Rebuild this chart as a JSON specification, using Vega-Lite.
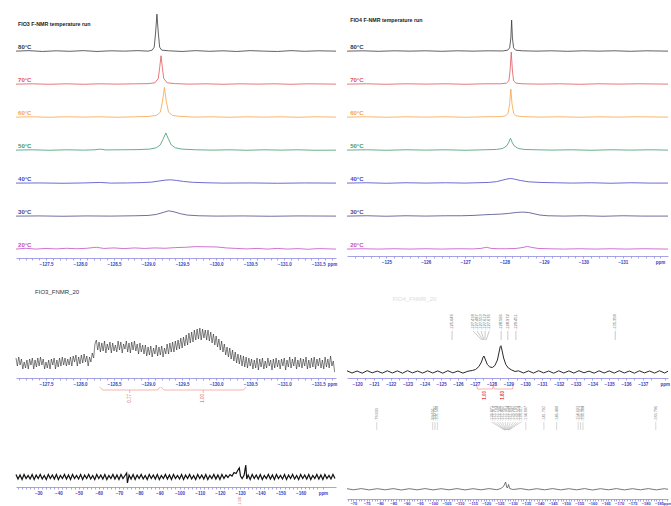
{
"$schema":"https://vega.github.io/schema/vega-lite/v6.json",
"padding":{"left":13,"top":0,"right":0,"bottom":0},
"background":"white",
"config":{"view":{"stroke":null},"font":"Liberation Sans","axis":{"labelFontSize":4.5,"labelFontWeight":"bold","labelColor":"#3c3cc4","domainColor":"#8c8ce0","domainWidth":0.8,"tickColor":"#6a6ad6","tickSize":2,"tickWidth":0.6,"labelPadding":1.5,"grid":false,"labelOverlap":false,"labelFlush":false}},
"datasets":{
"tl":[
{"s":"80°C","x":-127.06,"y":6.0},{"s":"80°C","x":-127.25,"y":6.015},{"s":"80°C","x":-127.45,"y":5.99},{"s":"80°C","x":-127.65,"y":6.01},{"s":"80°C","x":-127.85,"y":5.995},{"s":"80°C","x":-128.05,"y":6.015},{"s":"80°C","x":-128.25,"y":5.99},{"s":"80°C","x":-128.45,"y":6.01},{"s":"80°C","x":-128.65,"y":6.0},{"s":"80°C","x":-128.85,"y":6.015},{"s":"80°C","x":-129.0,"y":6.0},{"s":"80°C","x":-129.06,"y":6.03},{"s":"80°C","x":-129.09,"y":6.12},{"s":"80°C","x":-129.11,"y":6.55},{"s":"80°C","x":-129.13,"y":7.12},{"s":"80°C","x":-129.15,"y":6.55},{"s":"80°C","x":-129.17,"y":6.12},{"s":"80°C","x":-129.2,"y":6.03},{"s":"80°C","x":-129.3,"y":6.01},{"s":"80°C","x":-129.5,"y":5.99},{"s":"80°C","x":-129.7,"y":6.015},{"s":"80°C","x":-129.9,"y":5.995},{"s":"80°C","x":-130.1,"y":6.01},{"s":"80°C","x":-130.3,"y":5.99},{"s":"80°C","x":-130.5,"y":6.015},{"s":"80°C","x":-130.7,"y":6.0},{"s":"80°C","x":-130.9,"y":5.99},{"s":"80°C","x":-131.1,"y":6.015},{"s":"80°C","x":-131.3,"y":5.995},{"s":"80°C","x":-131.5,"y":6.01},{"s":"80°C","x":-131.76,"y":6.0},
{"s":"70°C","x":-127.06,"y":5.0},{"s":"70°C","x":-127.3,"y":5.01},{"s":"70°C","x":-127.55,"y":4.995},{"s":"70°C","x":-127.8,"y":5.01},{"s":"70°C","x":-128.05,"y":4.995},{"s":"70°C","x":-128.3,"y":5.01},{"s":"70°C","x":-128.55,"y":5.0},{"s":"70°C","x":-128.8,"y":5.01},{"s":"70°C","x":-129.0,"y":5.015},{"s":"70°C","x":-129.1,"y":5.04},{"s":"70°C","x":-129.15,"y":5.17},{"s":"70°C","x":-129.17,"y":5.5},{"s":"70°C","x":-129.19,"y":5.86},{"s":"70°C","x":-129.21,"y":5.5},{"s":"70°C","x":-129.23,"y":5.17},{"s":"70°C","x":-129.28,"y":5.04},{"s":"70°C","x":-129.4,"y":5.015},{"s":"70°C","x":-129.6,"y":5.0},{"s":"70°C","x":-129.85,"y":5.01},{"s":"70°C","x":-130.1,"y":4.995},{"s":"70°C","x":-130.35,"y":5.01},{"s":"70°C","x":-130.6,"y":5.0},{"s":"70°C","x":-130.85,"y":5.01},{"s":"70°C","x":-131.1,"y":4.995},{"s":"70°C","x":-131.35,"y":5.01},{"s":"70°C","x":-131.76,"y":5.0},
{"s":"60°C","x":-127.06,"y":4.0},{"s":"60°C","x":-127.3,"y":4.01},{"s":"60°C","x":-127.55,"y":3.995},{"s":"60°C","x":-127.8,"y":4.01},{"s":"60°C","x":-128.05,"y":4.0},{"s":"60°C","x":-128.3,"y":4.01},{"s":"60°C","x":-128.55,"y":3.995},{"s":"60°C","x":-128.8,"y":4.01},{"s":"60°C","x":-129.0,"y":4.02},{"s":"60°C","x":-129.12,"y":4.05},{"s":"60°C","x":-129.18,"y":4.15},{"s":"60°C","x":-129.21,"y":4.45},{"s":"60°C","x":-129.24,"y":4.9},{"s":"60°C","x":-129.27,"y":4.45},{"s":"60°C","x":-129.3,"y":4.15},{"s":"60°C","x":-129.36,"y":4.05},{"s":"60°C","x":-129.48,"y":4.02},{"s":"60°C","x":-129.7,"y":4.0},{"s":"60°C","x":-129.95,"y":4.01},{"s":"60°C","x":-130.2,"y":3.995},{"s":"60°C","x":-130.45,"y":4.01},{"s":"60°C","x":-130.7,"y":4.0},{"s":"60°C","x":-130.95,"y":4.01},{"s":"60°C","x":-131.2,"y":3.995},{"s":"60°C","x":-131.45,"y":4.01},{"s":"60°C","x":-131.76,"y":4.0},
{"s":"50°C","x":-127.06,"y":3.0},{"s":"50°C","x":-127.3,"y":3.01},{"s":"50°C","x":-127.55,"y":2.995},{"s":"50°C","x":-127.8,"y":3.01},{"s":"50°C","x":-128.05,"y":3.0},{"s":"50°C","x":-128.22,"y":3.01},{"s":"50°C","x":-128.3,"y":3.03},{"s":"50°C","x":-128.38,"y":3.005},{"s":"50°C","x":-128.6,"y":3.01},{"s":"50°C","x":-128.85,"y":3.015},{"s":"50°C","x":-129.02,"y":3.03},{"s":"50°C","x":-129.12,"y":3.07},{"s":"50°C","x":-129.18,"y":3.16},{"s":"50°C","x":-129.22,"y":3.33},{"s":"50°C","x":-129.26,"y":3.52},{"s":"50°C","x":-129.3,"y":3.33},{"s":"50°C","x":-129.34,"y":3.16},{"s":"50°C","x":-129.4,"y":3.07},{"s":"50°C","x":-129.5,"y":3.03},{"s":"50°C","x":-129.7,"y":3.01},{"s":"50°C","x":-129.95,"y":3.0},{"s":"50°C","x":-130.2,"y":3.01},{"s":"50°C","x":-130.45,"y":2.995},{"s":"50°C","x":-130.7,"y":3.01},{"s":"50°C","x":-130.95,"y":3.0},{"s":"50°C","x":-131.2,"y":3.01},{"s":"50°C","x":-131.45,"y":2.995},{"s":"50°C","x":-131.76,"y":3.0},
{"s":"40°C","x":-127.06,"y":2.0},{"s":"40°C","x":-127.4,"y":2.005},{"s":"40°C","x":-127.75,"y":1.995},{"s":"40°C","x":-128.05,"y":2.005},{"s":"40°C","x":-128.3,"y":2.02},{"s":"40°C","x":-128.45,"y":2.0},{"s":"40°C","x":-128.7,"y":2.005},{"s":"40°C","x":-128.9,"y":2.015},{"s":"40°C","x":-129.05,"y":2.03},{"s":"40°C","x":-129.15,"y":2.06},{"s":"40°C","x":-129.25,"y":2.09},{"s":"40°C","x":-129.33,"y":2.1},{"s":"40°C","x":-129.42,"y":2.08},{"s":"40°C","x":-129.52,"y":2.05},{"s":"40°C","x":-129.65,"y":2.025},{"s":"40°C","x":-129.85,"y":2.01},{"s":"40°C","x":-130.1,"y":2.0},{"s":"40°C","x":-130.5,"y":2.005},{"s":"40°C","x":-130.9,"y":1.995},{"s":"40°C","x":-131.3,"y":2.005},{"s":"40°C","x":-131.76,"y":2.0},
{"s":"30°C","x":-127.06,"y":1.0},{"s":"30°C","x":-127.4,"y":1.005},{"s":"30°C","x":-127.75,"y":0.995},{"s":"30°C","x":-128.1,"y":1.005},{"s":"30°C","x":-128.45,"y":1.0},{"s":"30°C","x":-128.8,"y":1.01},{"s":"30°C","x":-129.0,"y":1.02},{"s":"30°C","x":-129.12,"y":1.05},{"s":"30°C","x":-129.22,"y":1.11},{"s":"30°C","x":-129.3,"y":1.16},{"s":"30°C","x":-129.38,"y":1.13},{"s":"30°C","x":-129.48,"y":1.07},{"s":"30°C","x":-129.58,"y":1.03},{"s":"30°C","x":-129.75,"y":1.01},{"s":"30°C","x":-130.0,"y":1.0},{"s":"30°C","x":-130.4,"y":1.005},{"s":"30°C","x":-130.8,"y":0.995},{"s":"30°C","x":-131.2,"y":1.005},{"s":"30°C","x":-131.76,"y":1.0},
{"s":"20°C","x":-127.06,"y":0.0},{"s":"20°C","x":-127.2,"y":0.025},{"s":"20°C","x":-127.35,"y":0.0},{"s":"20°C","x":-127.5,"y":0.02},{"s":"20°C","x":-127.65,"y":0.005},{"s":"20°C","x":-127.8,"y":0.025},{"s":"20°C","x":-127.95,"y":0.01},{"s":"20°C","x":-128.1,"y":0.025},{"s":"20°C","x":-128.24,"y":0.055},{"s":"20°C","x":-128.35,"y":0.02},{"s":"20°C","x":-128.5,"y":0.035},{"s":"20°C","x":-128.65,"y":0.015},{"s":"20°C","x":-128.8,"y":0.035},{"s":"20°C","x":-128.95,"y":0.02},{"s":"20°C","x":-129.1,"y":0.035},{"s":"20°C","x":-129.25,"y":0.025},{"s":"20°C","x":-129.4,"y":0.045},{"s":"20°C","x":-129.55,"y":0.055},{"s":"20°C","x":-129.7,"y":0.075},{"s":"20°C","x":-129.85,"y":0.07},{"s":"20°C","x":-130.0,"y":0.065},{"s":"20°C","x":-130.15,"y":0.035},{"s":"20°C","x":-130.3,"y":0.02},{"s":"20°C","x":-130.45,"y":0.005},{"s":"20°C","x":-130.6,"y":0.02},{"s":"20°C","x":-130.75,"y":0.0},{"s":"20°C","x":-130.9,"y":0.02},{"s":"20°C","x":-131.05,"y":0.0},{"s":"20°C","x":-131.2,"y":0.015},{"s":"20°C","x":-131.35,"y":-0.005},{"s":"20°C","x":-131.5,"y":0.015},{"s":"20°C","x":-131.76,"y":0.0}
],
"tll":[{"s":"80°C","x":-127.09,"y":6.04},{"s":"70°C","x":-127.09,"y":5.04},{"s":"60°C","x":-127.09,"y":4.04},{"s":"50°C","x":-127.09,"y":3.04},{"s":"40°C","x":-127.09,"y":2.04},{"s":"30°C","x":-127.09,"y":1.04},{"s":"20°C","x":-127.09,"y":0.04}],
"tr":[
{"s":"80°C","x":-124.0,"y":6.0},{"s":"80°C","x":-124.4,"y":6.01},{"s":"80°C","x":-124.8,"y":5.995},{"s":"80°C","x":-125.2,"y":6.01},{"s":"80°C","x":-125.6,"y":6.0},{"s":"80°C","x":-126.0,"y":6.01},{"s":"80°C","x":-126.4,"y":5.995},{"s":"80°C","x":-126.8,"y":6.01},{"s":"80°C","x":-127.2,"y":6.0},{"s":"80°C","x":-127.6,"y":6.01},{"s":"80°C","x":-127.95,"y":6.005},{"s":"80°C","x":-128.08,"y":6.03},{"s":"80°C","x":-128.13,"y":6.1},{"s":"80°C","x":-128.16,"y":6.4},{"s":"80°C","x":-128.18,"y":6.94},{"s":"80°C","x":-128.2,"y":6.4},{"s":"80°C","x":-128.23,"y":6.1},{"s":"80°C","x":-128.28,"y":6.03},{"s":"80°C","x":-128.45,"y":6.01},{"s":"80°C","x":-128.8,"y":6.0},{"s":"80°C","x":-129.2,"y":6.01},{"s":"80°C","x":-129.6,"y":5.995},{"s":"80°C","x":-130.0,"y":6.01},{"s":"80°C","x":-130.4,"y":6.0},{"s":"80°C","x":-130.8,"y":6.01},{"s":"80°C","x":-131.2,"y":5.995},{"s":"80°C","x":-131.6,"y":6.01},{"s":"80°C","x":-132.15,"y":6.0},
{"s":"70°C","x":-124.0,"y":5.0},{"s":"70°C","x":-124.5,"y":5.01},{"s":"70°C","x":-125.0,"y":4.995},{"s":"70°C","x":-125.5,"y":5.01},{"s":"70°C","x":-126.0,"y":5.0},{"s":"70°C","x":-126.5,"y":5.01},{"s":"70°C","x":-127.0,"y":4.995},{"s":"70°C","x":-127.5,"y":5.01},{"s":"70°C","x":-127.9,"y":5.01},{"s":"70°C","x":-128.05,"y":5.03},{"s":"70°C","x":-128.11,"y":5.1},{"s":"70°C","x":-128.14,"y":5.4},{"s":"70°C","x":-128.17,"y":5.97},{"s":"70°C","x":-128.2,"y":5.4},{"s":"70°C","x":-128.23,"y":5.1},{"s":"70°C","x":-128.29,"y":5.03},{"s":"70°C","x":-128.45,"y":5.01},{"s":"70°C","x":-128.9,"y":5.0},{"s":"70°C","x":-129.4,"y":5.01},{"s":"70°C","x":-129.9,"y":4.995},{"s":"70°C","x":-130.4,"y":5.01},{"s":"70°C","x":-130.9,"y":5.0},{"s":"70°C","x":-131.4,"y":5.01},{"s":"70°C","x":-132.15,"y":5.0},
{"s":"60°C","x":-124.0,"y":4.0},{"s":"60°C","x":-124.5,"y":4.01},{"s":"60°C","x":-125.0,"y":3.995},{"s":"60°C","x":-125.5,"y":4.01},{"s":"60°C","x":-126.0,"y":4.0},{"s":"60°C","x":-126.5,"y":4.01},{"s":"60°C","x":-127.0,"y":3.995},{"s":"60°C","x":-127.5,"y":4.01},{"s":"60°C","x":-127.9,"y":4.015},{"s":"60°C","x":-128.03,"y":4.04},{"s":"60°C","x":-128.09,"y":4.12},{"s":"60°C","x":-128.13,"y":4.4},{"s":"60°C","x":-128.16,"y":4.85},{"s":"60°C","x":-128.19,"y":4.4},{"s":"60°C","x":-128.23,"y":4.12},{"s":"60°C","x":-128.29,"y":4.04},{"s":"60°C","x":-128.45,"y":4.015},{"s":"60°C","x":-128.9,"y":4.0},{"s":"60°C","x":-129.4,"y":4.01},{"s":"60°C","x":-129.9,"y":3.995},{"s":"60°C","x":-130.4,"y":4.01},{"s":"60°C","x":-130.9,"y":4.0},{"s":"60°C","x":-131.4,"y":4.01},{"s":"60°C","x":-132.15,"y":4.0},
{"s":"50°C","x":-124.0,"y":3.0},{"s":"50°C","x":-124.5,"y":3.01},{"s":"50°C","x":-125.0,"y":2.995},{"s":"50°C","x":-125.5,"y":3.01},{"s":"50°C","x":-126.0,"y":3.0},{"s":"50°C","x":-126.5,"y":3.01},{"s":"50°C","x":-127.0,"y":2.995},{"s":"50°C","x":-127.5,"y":3.01},{"s":"50°C","x":-127.8,"y":3.02},{"s":"50°C","x":-127.95,"y":3.05},{"s":"50°C","x":-128.05,"y":3.12},{"s":"50°C","x":-128.1,"y":3.22},{"s":"50°C","x":-128.15,"y":3.36},{"s":"50°C","x":-128.2,"y":3.22},{"s":"50°C","x":-128.25,"y":3.12},{"s":"50°C","x":-128.35,"y":3.05},{"s":"50°C","x":-128.5,"y":3.02},{"s":"50°C","x":-128.8,"y":3.01},{"s":"50°C","x":-129.2,"y":3.0},{"s":"50°C","x":-129.7,"y":3.01},{"s":"50°C","x":-130.2,"y":2.995},{"s":"50°C","x":-130.7,"y":3.01},{"s":"50°C","x":-131.2,"y":3.0},{"s":"50°C","x":-131.7,"y":3.01},{"s":"50°C","x":-132.15,"y":3.0},
{"s":"40°C","x":-124.0,"y":2.0},{"s":"40°C","x":-124.5,"y":2.01},{"s":"40°C","x":-125.0,"y":1.995},{"s":"40°C","x":-125.5,"y":2.01},{"s":"40°C","x":-126.0,"y":2.0},{"s":"40°C","x":-126.5,"y":2.01},{"s":"40°C","x":-127.0,"y":2.0},{"s":"40°C","x":-127.3,"y":2.01},{"s":"40°C","x":-127.6,"y":2.02},{"s":"40°C","x":-127.8,"y":2.045},{"s":"40°C","x":-127.95,"y":2.09},{"s":"40°C","x":-128.05,"y":2.12},{"s":"40°C","x":-128.15,"y":2.14},{"s":"40°C","x":-128.25,"y":2.12},{"s":"40°C","x":-128.4,"y":2.08},{"s":"40°C","x":-128.6,"y":2.04},{"s":"40°C","x":-128.9,"y":2.02},{"s":"40°C","x":-129.3,"y":2.01},{"s":"40°C","x":-129.7,"y":2.0},{"s":"40°C","x":-130.2,"y":2.01},{"s":"40°C","x":-130.7,"y":1.995},{"s":"40°C","x":-131.2,"y":2.01},{"s":"40°C","x":-131.7,"y":2.0},{"s":"40°C","x":-132.15,"y":2.0},
{"s":"30°C","x":-124.0,"y":1.0},{"s":"30°C","x":-124.5,"y":1.01},{"s":"30°C","x":-125.0,"y":0.995},{"s":"30°C","x":-125.5,"y":1.01},{"s":"30°C","x":-126.0,"y":1.0},{"s":"30°C","x":-126.5,"y":1.01},{"s":"30°C","x":-126.9,"y":1.01},{"s":"30°C","x":-127.2,"y":1.02},{"s":"30°C","x":-127.5,"y":1.04},{"s":"30°C","x":-127.7,"y":1.05},{"s":"30°C","x":-127.9,"y":1.06},{"s":"30°C","x":-128.1,"y":1.08},{"s":"30°C","x":-128.3,"y":1.11},{"s":"30°C","x":-128.45,"y":1.12},{"s":"30°C","x":-128.6,"y":1.11},{"s":"30°C","x":-128.75,"y":1.07},{"s":"30°C","x":-128.9,"y":1.03},{"s":"30°C","x":-129.1,"y":1.01},{"s":"30°C","x":-129.5,"y":1.0},{"s":"30°C","x":-130.0,"y":1.01},{"s":"30°C","x":-130.5,"y":0.995},{"s":"30°C","x":-131.0,"y":1.01},{"s":"30°C","x":-131.5,"y":1.0},{"s":"30°C","x":-132.15,"y":1.0},
{"s":"20°C","x":-124.0,"y":0.0},{"s":"20°C","x":-124.4,"y":0.01},{"s":"20°C","x":-124.8,"y":0.0},{"s":"20°C","x":-125.2,"y":0.01},{"s":"20°C","x":-125.6,"y":0.0},{"s":"20°C","x":-126.0,"y":0.01},{"s":"20°C","x":-126.4,"y":0.0},{"s":"20°C","x":-126.8,"y":0.01},{"s":"20°C","x":-127.2,"y":0.005},{"s":"20°C","x":-127.4,"y":0.02},{"s":"20°C","x":-127.54,"y":0.055},{"s":"20°C","x":-127.66,"y":0.02},{"s":"20°C","x":-127.85,"y":0.01},{"s":"20°C","x":-128.05,"y":0.01},{"s":"20°C","x":-128.3,"y":0.02},{"s":"20°C","x":-128.47,"y":0.05},{"s":"20°C","x":-128.58,"y":0.08},{"s":"20°C","x":-128.69,"y":0.05},{"s":"20°C","x":-128.85,"y":0.02},{"s":"20°C","x":-129.1,"y":0.01},{"s":"20°C","x":-129.5,"y":0.0},{"s":"20°C","x":-129.9,"y":0.01},{"s":"20°C","x":-130.3,"y":0.0},{"s":"20°C","x":-130.7,"y":0.01},{"s":"20°C","x":-131.1,"y":0.0},{"s":"20°C","x":-131.5,"y":0.01},{"s":"20°C","x":-132.15,"y":0.0}
],
"trl":[{"s":"80°C","x":-124.08,"y":6.04},{"s":"70°C","x":-124.08,"y":5.04},{"s":"60°C","x":-124.08,"y":4.04},{"s":"50°C","x":-124.08,"y":3.04},{"s":"40°C","x":-124.08,"y":2.04},{"s":"30°C","x":-124.08,"y":1.04},{"s":"20°C","x":-124.08,"y":0.04}],
"ml":[
{"x":-127.06,"y":20},{"x":-127.08,"y":12},{"x":-127.10,"y":21},{"x":-127.12,"y":13},{"x":-127.14,"y":19},{"x":-127.16,"y":9},{"x":-127.18,"y":16},{"x":-127.20,"y":10},{"x":-127.22,"y":18},{"x":-127.24,"y":9},{"x":-127.26,"y":19},{"x":-127.28,"y":13},{"x":-127.30,"y":20},{"x":-127.32,"y":9},{"x":-127.34,"y":18},{"x":-127.36,"y":11},{"x":-127.38,"y":20},{"x":-127.40,"y":12},{"x":-127.42,"y":21},{"x":-127.44,"y":13},{"x":-127.46,"y":19},{"x":-127.48,"y":9},{"x":-127.50,"y":16},{"x":-127.52,"y":10},{"x":-127.54,"y":18},{"x":-127.56,"y":9},{"x":-127.58,"y":19},{"x":-127.60,"y":13},{"x":-127.62,"y":20},{"x":-127.64,"y":9},{"x":-127.66,"y":18},{"x":-127.68,"y":11},{"x":-127.70,"y":20},{"x":-127.72,"y":12},{"x":-127.74,"y":21},{"x":-127.76,"y":13},{"x":-127.78,"y":20},{"x":-127.80,"y":12},{"x":-127.82,"y":19},{"x":-127.84,"y":13},{"x":-127.86,"y":21},{"x":-127.88,"y":12},{"x":-127.90,"y":22},{"x":-127.92,"y":16},{"x":-127.94,"y":23},{"x":-127.96,"y":12},{"x":-127.98,"y":21},{"x":-128.00,"y":14},{"x":-128.02,"y":23},{"x":-128.04,"y":15},{"x":-128.06,"y":24},{"x":-128.08,"y":16},{"x":-128.10,"y":22},{"x":-128.12,"y":12},{"x":-128.14,"y":21},{"x":-128.16,"y":16},{"x":-128.18,"y":25},{"x":-128.20,"y":20},{"x":-128.22,"y":34},{"x":-128.24,"y":38},{"x":-128.26,"y":28},{"x":-128.28,"y":36},{"x":-128.30,"y":26},{"x":-128.32,"y":35},{"x":-128.34,"y":27},{"x":-128.36,"y":37},{"x":-128.38,"y":25},{"x":-128.40,"y":34},{"x":-128.42,"y":28},{"x":-128.44,"y":36},{"x":-128.46,"y":25},{"x":-128.48,"y":35},{"x":-128.50,"y":27},{"x":-128.52,"y":33},{"x":-128.54,"y":26},{"x":-128.56,"y":37},{"x":-128.58,"y":28},{"x":-128.60,"y":36},{"x":-128.62,"y":25},{"x":-128.64,"y":34},{"x":-128.66,"y":29},{"x":-128.68,"y":37},{"x":-128.70,"y":26},{"x":-128.72,"y":35},{"x":-128.74,"y":25},{"x":-128.76,"y":36},{"x":-128.78,"y":28},{"x":-128.80,"y":37},{"x":-128.82,"y":27},{"x":-128.84,"y":34},{"x":-128.86,"y":24},{"x":-128.88,"y":35},{"x":-128.90,"y":26},{"x":-128.92,"y":33},{"x":-128.94,"y":24},{"x":-128.96,"y":33},{"x":-128.98,"y":22},{"x":-129.00,"y":31},{"x":-129.02,"y":23},{"x":-129.04,"y":32},{"x":-129.06,"y":21},{"x":-129.08,"y":30},{"x":-129.10,"y":24},{"x":-129.12,"y":33},{"x":-129.14,"y":22},{"x":-129.16,"y":31},{"x":-129.18,"y":23},{"x":-129.20,"y":32},{"x":-129.22,"y":21},{"x":-129.24,"y":30},{"x":-129.26,"y":24},{"x":-129.28,"y":34},{"x":-129.30,"y":24},{"x":-129.32,"y":35},{"x":-129.34,"y":26},{"x":-129.36,"y":36},{"x":-129.38,"y":26},{"x":-129.40,"y":37},{"x":-129.42,"y":28},{"x":-129.44,"y":38},{"x":-129.46,"y":29},{"x":-129.48,"y":40},{"x":-129.50,"y":30},{"x":-129.52,"y":41},{"x":-129.54,"y":32},{"x":-129.56,"y":43},{"x":-129.58,"y":33},{"x":-129.60,"y":45},{"x":-129.62,"y":35},{"x":-129.64,"y":46},{"x":-129.66,"y":36},{"x":-129.68,"y":48},{"x":-129.70,"y":38},{"x":-129.72,"y":49},{"x":-129.74,"y":39},{"x":-129.76,"y":50},{"x":-129.78,"y":38},{"x":-129.80,"y":49},{"x":-129.82,"y":40},{"x":-129.84,"y":48},{"x":-129.86,"y":38},{"x":-129.88,"y":48},{"x":-129.90,"y":37},{"x":-129.92,"y":46},{"x":-129.94,"y":35},{"x":-129.96,"y":44},{"x":-129.98,"y":33},{"x":-130.00,"y":42},{"x":-130.02,"y":31},{"x":-130.04,"y":39},{"x":-130.06,"y":28},{"x":-130.08,"y":37},{"x":-130.10,"y":26},{"x":-130.12,"y":34},{"x":-130.14,"y":23},{"x":-130.16,"y":31},{"x":-130.18,"y":21},{"x":-130.20,"y":30},{"x":-130.22,"y":19},{"x":-130.24,"y":28},{"x":-130.26,"y":17},{"x":-130.28,"y":26},{"x":-130.30,"y":15},{"x":-130.32,"y":24},{"x":-130.34,"y":14},{"x":-130.36,"y":23},{"x":-130.38,"y":12},{"x":-130.40,"y":22},{"x":-130.42,"y":11},{"x":-130.44,"y":21},{"x":-130.46,"y":10},{"x":-130.48,"y":20},{"x":-130.50,"y":12},{"x":-130.52,"y":19},{"x":-130.54,"y":9},{"x":-130.56,"y":18},{"x":-130.58,"y":10},{"x":-130.60,"y":20},{"x":-130.62,"y":8},{"x":-130.64,"y":19},{"x":-130.66,"y":11},{"x":-130.68,"y":20},{"x":-130.70,"y":9},{"x":-130.72,"y":17},{"x":-130.74,"y":10},{"x":-130.76,"y":20},{"x":-130.78,"y":12},{"x":-130.80,"y":18},{"x":-130.82,"y":8},{"x":-130.84,"y":19},{"x":-130.86,"y":10},{"x":-130.88,"y":20},{"x":-130.90,"y":11},{"x":-130.92,"y":18},{"x":-130.94,"y":9},{"x":-130.96,"y":19},{"x":-130.98,"y":12},{"x":-131.00,"y":20},{"x":-131.02,"y":8},{"x":-131.04,"y":18},{"x":-131.06,"y":11},{"x":-131.08,"y":21},{"x":-131.10,"y":10},{"x":-131.12,"y":19},{"x":-131.14,"y":12},{"x":-131.16,"y":21},{"x":-131.18,"y":9},{"x":-131.20,"y":18},{"x":-131.22,"y":11},{"x":-131.24,"y":20},{"x":-131.26,"y":10},{"x":-131.28,"y":19},{"x":-131.30,"y":12},{"x":-131.32,"y":21},{"x":-131.34,"y":9},{"x":-131.36,"y":18},{"x":-131.38,"y":10},{"x":-131.40,"y":20},{"x":-131.42,"y":11},{"x":-131.44,"y":21},{"x":-131.46,"y":9},{"x":-131.48,"y":19},{"x":-131.50,"y":12},{"x":-131.52,"y":20},{"x":-131.54,"y":10},{"x":-131.56,"y":18},{"x":-131.58,"y":9},{"x":-131.60,"y":21},{"x":-131.62,"y":11},{"x":-131.64,"y":19},{"x":-131.66,"y":10},{"x":-131.68,"y":22},{"x":-131.70,"y":12},{"x":-131.72,"y":17},{"x":-131.74,"y":6}
],
"mlb":[
{"b":"a","x":-128.29,"y":-9},{"b":"a","x":-128.33,"y":-12},{"b":"a","x":-129.14,"y":-12},{"b":"a","x":-129.18,"y":-9},
{"b":"b","x":-129.19,"y":-9},{"b":"b","x":-129.23,"y":-12},{"b":"b","x":-130.4,"y":-12},{"b":"b","x":-130.44,"y":-9}
],
"mli":[{"x":-128.73,"t":"0.77"},{"x":-129.81,"t":"1.00"}],
"bl":[
{"x":-19,"y":12.5},{"x":-20,"y":8},{"x":-21,"y":12},{"x":-22,"y":7.5},{"x":-23,"y":12.5},{"x":-24,"y":8.5},{"x":-25,"y":11.5},{"x":-26,"y":8},{"x":-27,"y":12.5},{"x":-28,"y":7.5},{"x":-29,"y":12},{"x":-30,"y":8.5},{"x":-31,"y":12.5},{"x":-32,"y":8},{"x":-33,"y":11.5},{"x":-34,"y":7.5},{"x":-35,"y":12.5},{"x":-36,"y":8.5},{"x":-37,"y":12},{"x":-38,"y":8},{"x":-39,"y":12.5},{"x":-40,"y":7.5},{"x":-41,"y":11.5},{"x":-42,"y":8.5},{"x":-43,"y":12.5},{"x":-44,"y":8},{"x":-45,"y":12},{"x":-46,"y":7.5},{"x":-47,"y":12.5},{"x":-48,"y":8.5},{"x":-49,"y":11.5},{"x":-50,"y":8},{"x":-51,"y":12.5},{"x":-52,"y":7.5},{"x":-53,"y":12},{"x":-54,"y":8.5},{"x":-55,"y":12.5},{"x":-56,"y":8},{"x":-57,"y":11.5},{"x":-58,"y":7.5},{"x":-59,"y":12.5},{"x":-60,"y":8.5},{"x":-61,"y":12},{"x":-62,"y":8},{"x":-63,"y":12.5},{"x":-64,"y":7.5},{"x":-65,"y":11.5},{"x":-66,"y":8.5},{"x":-67,"y":12.5},{"x":-68,"y":8},{"x":-69,"y":12},{"x":-70,"y":7.5},{"x":-71,"y":12.5},{"x":-72,"y":8.5},{"x":-73,"y":11.5},{"x":-73.8,"y":14},{"x":-74.2,"y":4},{"x":-75,"y":12},{"x":-76,"y":8},{"x":-77,"y":12.5},{"x":-78,"y":7.5},{"x":-79,"y":12},{"x":-80,"y":8.5},{"x":-81,"y":12.5},{"x":-82,"y":8},{"x":-83,"y":11.5},{"x":-84,"y":7.5},{"x":-85,"y":12.5},{"x":-86,"y":8.5},{"x":-87,"y":12},{"x":-88,"y":8},{"x":-89,"y":12.5},{"x":-90,"y":7.5},{"x":-91,"y":11.5},{"x":-92,"y":8.5},{"x":-93,"y":12.5},{"x":-94,"y":8},{"x":-95,"y":12},{"x":-96,"y":7.5},{"x":-97,"y":12.5},{"x":-98,"y":8.5},{"x":-99,"y":11.5},{"x":-100,"y":8},{"x":-101,"y":12.5},{"x":-102,"y":7.5},{"x":-103,"y":12},{"x":-104,"y":8.5},{"x":-105,"y":12.5},{"x":-106,"y":8},{"x":-107,"y":11.5},{"x":-108,"y":7.5},{"x":-109,"y":12.5},{"x":-110,"y":8.5},{"x":-111,"y":12},{"x":-112,"y":8},{"x":-113,"y":12.5},{"x":-114,"y":7.5},{"x":-115,"y":11.5},{"x":-116,"y":8.5},{"x":-117,"y":12.5},{"x":-118,"y":8},{"x":-119,"y":12},{"x":-120,"y":7.5},{"x":-121,"y":12.5},{"x":-122,"y":8.5},{"x":-123,"y":12},{"x":-124,"y":9.5},{"x":-125,"y":12.5},{"x":-126,"y":11},{"x":-127,"y":14.5},{"x":-128,"y":13.5},{"x":-128.8,"y":16.5},{"x":-129.6,"y":19},{"x":-130.2,"y":11},{"x":-131,"y":8.5},{"x":-132,"y":12},{"x":-132.8,"y":22},{"x":-133.3,"y":8},{"x":-134,"y":12},{"x":-135,"y":7.5},{"x":-136,"y":12.5},{"x":-137,"y":8.5},{"x":-138,"y":12},{"x":-139,"y":8},{"x":-140,"y":12.5},{"x":-141,"y":7.5},{"x":-142,"y":11.5},{"x":-143,"y":8.5},{"x":-144,"y":12.5},{"x":-145,"y":8},{"x":-146,"y":12},{"x":-147,"y":7.5},{"x":-148,"y":12.5},{"x":-149,"y":8.5},{"x":-150,"y":11.5},{"x":-151,"y":8},{"x":-152,"y":12.5},{"x":-153,"y":7.5},{"x":-154,"y":12},{"x":-155,"y":8.5},{"x":-156,"y":12.5},{"x":-157,"y":8},{"x":-158,"y":11.5},{"x":-159,"y":7.5},{"x":-160,"y":12.5},{"x":-161,"y":8.5},{"x":-162,"y":12},{"x":-163,"y":8},{"x":-164,"y":12.5},{"x":-165,"y":7.5},{"x":-166,"y":11.5},{"x":-167,"y":8.5},{"x":-168,"y":12.5},{"x":-169,"y":8},{"x":-170,"y":12},{"x":-171,"y":7.5},{"x":-172,"y":12.5},{"x":-173,"y":8.5},{"x":-174,"y":11.5},{"x":-175,"y":8},{"x":-176,"y":12.5},{"x":-177,"y":8.5}
],
"mr":[
{"x":-119.4,"y":7.2},{"x":-119.7,"y":5.0},{"x":-120.0,"y":7.0},{"x":-120.3,"y":4.8},{"x":-120.6,"y":7.3},{"x":-120.9,"y":5.2},{"x":-121.2,"y":6.9},{"x":-121.5,"y":4.9},{"x":-121.8,"y":7.2},{"x":-122.1,"y":5.0},{"x":-122.4,"y":7.1},{"x":-122.7,"y":4.8},{"x":-123.0,"y":7.3},{"x":-123.3,"y":5.1},{"x":-123.6,"y":7.0},{"x":-123.9,"y":4.9},{"x":-124.2,"y":7.2},{"x":-124.5,"y":5.0},{"x":-124.8,"y":7.1},{"x":-125.1,"y":4.8},{"x":-125.4,"y":7.3},{"x":-125.7,"y":5.1},{"x":-126.0,"y":7.0},{"x":-126.3,"y":4.9},{"x":-126.6,"y":6.8},{"x":-126.85,"y":7.5},{"x":-127.05,"y":8.5},{"x":-127.25,"y":11.5},{"x":-127.4,"y":16},{"x":-127.5,"y":21},{"x":-127.55,"y":22},{"x":-127.62,"y":19},{"x":-127.75,"y":13.5},{"x":-127.9,"y":11},{"x":-128.05,"y":10.5},{"x":-128.2,"y":12.5},{"x":-128.35,"y":18},{"x":-128.45,"y":26},{"x":-128.52,"y":31.5},{"x":-128.56,"y":32.3},{"x":-128.62,"y":28},{"x":-128.72,"y":20},{"x":-128.85,"y":13.5},{"x":-129.0,"y":10},{"x":-129.2,"y":8},{"x":-129.4,"y":6.5},{"x":-129.6,"y":7.2},{"x":-129.9,"y":5.0},{"x":-130.2,"y":7.1},{"x":-130.5,"y":4.9},{"x":-130.8,"y":7.3},{"x":-131.1,"y":5.1},{"x":-131.4,"y":7.0},{"x":-131.7,"y":4.8},{"x":-132.0,"y":7.2},{"x":-132.3,"y":5.0},{"x":-132.6,"y":7.1},{"x":-132.9,"y":4.9},{"x":-133.2,"y":7.3},{"x":-133.5,"y":5.2},{"x":-133.8,"y":6.9},{"x":-134.1,"y":4.8},{"x":-134.4,"y":7.2},{"x":-134.7,"y":5.0},{"x":-135.0,"y":7.1},{"x":-135.3,"y":4.9},{"x":-135.6,"y":7.3},{"x":-135.9,"y":5.0},{"x":-136.2,"y":7.0},{"x":-136.5,"y":4.8},{"x":-136.8,"y":7.2},{"x":-137.1,"y":5.1},{"x":-137.4,"y":7.0},{"x":-137.7,"y":4.9},{"x":-138.0,"y":7.2},{"x":-138.3,"y":5.0},{"x":-138.5,"y":6.8}
],
"mrl":[{"x":-125.65,"px":-125.65,"t":"-125.649"},{"x":-126.9,"px":-127.42,"t":"-127.418"},{"x":-127.14,"px":-127.49,"t":"-127.487"},{"x":-127.38,"px":-127.55,"t":"-127.553"},{"x":-127.62,"px":-127.61,"t":"-127.612"},{"x":-127.86,"px":-127.68,"t":"-127.676"},{"x":-128.57,"px":-128.57,"t":"-128.566"},{"x":-128.97,"px":-128.97,"t":"-128.972"},{"x":-129.45,"px":-129.45,"t":"-129.451"},{"x":-135.36,"px":-135.36,"t":"-135.358"}],
"mrb":[
{"b":"a","x":-127.12,"y":-8},{"b":"a","x":-127.17,"y":-11},{"b":"a","x":-128.05,"y":-11},{"b":"a","x":-128.1,"y":-8},
{"b":"b","x":-128.11,"y":-8},{"b":"b","x":-128.16,"y":-11},{"b":"b","x":-129.24,"y":-11},{"b":"b","x":-129.29,"y":-8}
],
"mri":[{"x":-127.61,"t":"1.00"},{"x":-128.7,"t":"1.83"}],
"br":[
{"x":-67.6,"y":10.3},{"x":-70,"y":9.2},{"x":-73,"y":10.4},{"x":-76,"y":9.1},{"x":-79,"y":10.3},{"x":-82,"y":9.2},{"x":-85,"y":10.4},{"x":-88,"y":9.0},{"x":-91,"y":10.3},{"x":-94,"y":9.2},{"x":-97,"y":10.4},{"x":-100,"y":9.1},{"x":-103,"y":10.3},{"x":-106,"y":9.2},{"x":-109,"y":10.4},{"x":-112,"y":9.1},{"x":-115,"y":10.3},{"x":-118,"y":9.2},{"x":-121,"y":10.4},{"x":-124,"y":9.3},{"x":-125.5,"y":10.5},{"x":-126.5,"y":12.5},{"x":-127.3,"y":17},{"x":-127.7,"y":12},{"x":-127.9,"y":11},{"x":-128.1,"y":12},{"x":-128.4,"y":14.5},{"x":-128.8,"y":10.5},{"x":-130,"y":9.5},{"x":-133,"y":10.4},{"x":-136,"y":9.1},{"x":-139,"y":10.3},{"x":-142,"y":9.2},{"x":-145,"y":10.4},{"x":-148,"y":9.1},{"x":-151,"y":10.3},{"x":-154,"y":9.2},{"x":-157,"y":10.4},{"x":-160,"y":9.0},{"x":-163,"y":10.3},{"x":-166,"y":9.2},{"x":-169,"y":10.4},{"x":-172,"y":9.1},{"x":-175,"y":10.3},{"x":-178,"y":9.2},{"x":-181,"y":10.4},{"x":-184,"y":9.1},{"x":-187,"y":10.3},{"x":-188.4,"y":9.7}
],
"brl":[{"x":-78.8,"px":-78.8,"t":"-78.803"},{"x":-99.85,"px":-99.85,"t":"-99.851"},{"x":-100.7,"px":-100.7,"t":"-100.702"},{"x":-101.6,"px":-101.6,"t":"-101.598"},
{"x":-122.0,"px":-126.87,"t":"-126.871"},{"x":-123.0,"px":-127.02,"t":"-127.018"},{"x":-124.1,"px":-127.18,"t":"-127.184"},{"x":-125.1,"px":-127.31,"t":"-127.306"},{"x":-126.1,"px":-127.45,"t":"-127.452"},{"x":-127.1,"px":-127.58,"t":"-127.581"},{"x":-128.1,"px":-127.73,"t":"-127.734"},{"x":-129.1,"px":-127.89,"t":"-127.893"},{"x":-130.2,"px":-128.04,"t":"-128.042"},{"x":-131.2,"px":-128.19,"t":"-128.193"},{"x":-132.2,"px":-128.36,"t":"-128.359"},{"x":-133.2,"px":-128.52,"t":"-128.517"},
{"x":-134.9,"px":-134.9,"t":"-134.897"},{"x":-141.7,"px":-141.7,"t":"-141.702"},{"x":-146.5,"px":-146.5,"t":"-146.498"},{"x":-154.6,"px":-154.6,"t":"-154.603"},{"x":-155.5,"px":-155.5,"t":"-155.512"},{"x":-156.4,"px":-156.4,"t":"-156.384"},{"x":-183.8,"px":-183.8,"t":"-183.796"}]
},
"spacing":7,
"hconcat":[
{"spacing":10,"vconcat":[
{"width":320,"height":258,"layer":[
{"data":{"name":"tl"},"mark":{"type":"line"},
"encoding":{"x":{"field":"x","type":"quantitative","scale":{"domain":[-127.06,-131.76],"nice":false,"zero":false},
"axis":{"title":null,"labelOverlap":false,"tickCount":1000,"values":[-127.1,-127.2,-127.3,-127.4,-127.5,-127.6,-127.7,-127.8,-127.9,-128.0,-128.1,-128.2,-128.3,-128.4,-128.5,-128.6,-128.7,-128.8,-128.9,-129.0,-129.1,-129.2,-129.3,-129.4,-129.5,-129.6,-129.7,-129.8,-129.9,-130.0,-130.1,-130.2,-130.3,-130.4,-130.5,-130.6,-130.7,-130.8,-130.9,-131.0,-131.1,-131.2,-131.3,-131.4,-131.5,-131.6,-131.7],
"labelExpr":"datum.value < -131.65 ? 'ppm' : (abs(datum.value * 2 - round(datum.value * 2)) < 0.01 ? format(datum.value, '.1f') : '')"}},
"y":{"field":"y","type":"quantitative","scale":{"domain":[-0.27,7.55],"nice":false,"zero":false},"axis":null},
"color":{"field":"s","type":"nominal","scale":{"domain":["80°C","70°C","60°C","50°C","40°C","30°C","20°C"],"range":["#3a3a3a","#e0575b","#f4a547","#3f9a6e","#4747c8","#4b4b86","#c34fc3"]},"legend":null},
"strokeWidth":{"field":"s","type":"nominal","scale":{"domain":["80°C","70°C","60°C","50°C","40°C","30°C","20°C"],"range":[0.8,0.8,0.8,0.8,0.8,0.9,1.3]},"legend":null}}},
{"data":{"name":"tll"},"mark":{"type":"text","align":"left","baseline":"bottom","fontSize":6,"fontWeight":"bold"},
"encoding":{"x":{"field":"x","type":"quantitative"},"y":{"field":"y","type":"quantitative"},"color":{"field":"s","type":"nominal","legend":null},"text":{"field":"s"}}},
{"data":{"values":[{"x":-127.09,"y":6.82,"t":"FIO3 F-NMR temperature run"}]},"mark":{"type":"text","align":"left","baseline":"middle","fontSize":5.3,"fontWeight":"bold","color":"#222222"},
"encoding":{"x":{"field":"x","type":"quantitative"},"y":{"field":"y","type":"quantitative"},"text":{"field":"t"}}}
]},
{"width":320,"height":102,"layer":[
{"data":{"name":"ml"},"mark":{"type":"line","strokeWidth":0.55,"color":"#1a1a1a"},
"encoding":{"x":{"field":"x","type":"quantitative","scale":{"domain":[-127.06,-131.76],"nice":false,"zero":false},
"axis":{"title":null,"labelOverlap":false,"tickCount":1000,"values":[-127.1,-127.2,-127.3,-127.4,-127.5,-127.6,-127.7,-127.8,-127.9,-128.0,-128.1,-128.2,-128.3,-128.4,-128.5,-128.6,-128.7,-128.8,-128.9,-129.0,-129.1,-129.2,-129.3,-129.4,-129.5,-129.6,-129.7,-129.8,-129.9,-130.0,-130.1,-130.2,-130.3,-130.4,-130.5,-130.6,-130.7,-130.8,-130.9,-131.0,-131.1,-131.2,-131.3,-131.4,-131.5,-131.6,-131.7],
"labelExpr":"datum.value < -131.65 ? 'ppm' : (abs(datum.value * 2 - round(datum.value * 2)) < 0.01 ? format(datum.value, '.1f') : '')"}},
"y":{"field":"y","type":"quantitative","scale":{"domain":[0,102],"nice":false,"zero":false},"axis":null}}},
{"data":{"name":"mlb"},"mark":{"type":"line","strokeWidth":0.6,"color":"#f08080"},
"encoding":{"x":{"field":"x","type":"quantitative"},"y":{"field":"y","type":"quantitative"},"detail":{"field":"b"}}},
{"data":{"name":"mli"},"mark":{"type":"rule","strokeWidth":0.6,"color":"#f08080"},
"encoding":{"x":{"field":"x","type":"quantitative"},"y":{"datum":-12,"type":"quantitative"},"y2":{"datum":-15}}},
{"data":{"name":"mli"},"mark":{"type":"text","angle":270,"align":"right","baseline":"middle","fontSize":4.5,"color":"#e05050"},
"encoding":{"x":{"field":"x","type":"quantitative"},"y":{"datum":-16,"type":"quantitative"},"text":{"field":"t"}}},
{"data":{"values":[{"x":-127.34,"y":86,"t":"FIO3_FNMR_20"}]},"mark":{"type":"text","align":"left","baseline":"middle","fontSize":6,"color":"#333333"},
"encoding":{"x":{"field":"x","type":"quantitative"},"y":{"field":"y","type":"quantitative"},"text":{"field":"t"}}}
]},
{"width":320,"height":74,"layer":[
{"data":{"name":"bl"},"mark":{"type":"line","strokeWidth":1.2,"color":"#111111"},
"encoding":{"x":{"field":"x","type":"quantitative","scale":{"domain":[-19,-177.5],"nice":false,"zero":false},
"axis":{"title":null,"labelOverlap":false,"tickCount":1000,"values":[-20,-22,-24,-26,-28,-30,-32,-34,-36,-38,-40,-42,-44,-46,-48,-50,-52,-54,-56,-58,-60,-62,-64,-66,-68,-70,-72,-74,-76,-78,-80,-82,-84,-86,-88,-90,-92,-94,-96,-98,-100,-102,-104,-106,-108,-110,-112,-114,-116,-118,-120,-122,-124,-126,-128,-130,-132,-134,-136,-138,-140,-142,-144,-146,-148,-150,-152,-154,-156,-158,-160,-162,-164,-166,-168,-171],
"labelExpr":"datum.value < -170 ? 'ppm' : ((datum.value % 10 == 0 && datum.value < -25) ? format(datum.value, '.0f') : '')"}},
"y":{"field":"y","type":"quantitative","scale":{"domain":[0,74],"nice":false,"zero":false},"axis":null}}},
{"data":{"values":[{"x":-130,"t":"1.00"}]},"mark":{"type":"text","angle":270,"align":"right","baseline":"middle","fontSize":4,"color":"#e05050"},
"encoding":{"x":{"field":"x","type":"quantitative"},"y":{"datum":-10,"type":"quantitative"},"text":{"field":"t"}}}
]}
]},
{"spacing":6,"vconcat":[
{"width":321,"height":256,"layer":[
{"data":{"name":"tr"},"mark":{"type":"line"},
"encoding":{"x":{"field":"x","type":"quantitative","scale":{"domain":[-124.0,-132.15],"nice":false,"zero":false},
"axis":{"title":null,"labelOverlap":false,"tickCount":1000,"values":[-124.2,-124.4,-124.6,-124.8,-125.0,-125.2,-125.4,-125.6,-125.8,-126.0,-126.2,-126.4,-126.6,-126.8,-127.0,-127.2,-127.4,-127.6,-127.8,-128.0,-128.2,-128.4,-128.6,-128.8,-129.0,-129.2,-129.4,-129.6,-129.8,-130.0,-130.2,-130.4,-130.6,-130.8,-131.0,-131.2,-131.4,-131.6,-131.8,-131.95],
"labelExpr":"datum.value < -131.9 ? 'ppm' : (abs(datum.value - round(datum.value)) < 0.01 ? format(datum.value, '.0f') : '')"}},
"y":{"field":"y","type":"quantitative","scale":{"domain":[-0.21,7.55],"nice":false,"zero":false},"axis":null},
"color":{"field":"s","type":"nominal","scale":{"domain":["80°C","70°C","60°C","50°C","40°C","30°C","20°C"],"range":["#3a3a3a","#e0575b","#f4a547","#3f9a6e","#4747c8","#4b4b86","#c34fc3"]},"legend":null},
"strokeWidth":{"field":"s","type":"nominal","scale":{"domain":["80°C","70°C","60°C","50°C","40°C","30°C","20°C"],"range":[0.8,0.8,0.8,0.8,0.8,0.9,1.1]},"legend":null}}},
{"data":{"name":"trl"},"mark":{"type":"text","align":"left","baseline":"bottom","fontSize":6,"fontWeight":"bold"},
"encoding":{"x":{"field":"x","type":"quantitative"},"y":{"field":"y","type":"quantitative"},"color":{"field":"s","type":"nominal","legend":null},"text":{"field":"s"}}},
{"data":{"values":[{"x":-124.08,"y":6.94,"t":"FIO4 F-NMR temperature run"}]},"mark":{"type":"text","align":"left","baseline":"middle","fontSize":5.3,"fontWeight":"bold","color":"#222222"},
"encoding":{"x":{"field":"x","type":"quantitative"},"y":{"field":"y","type":"quantitative"},"text":{"field":"t"}}}
]},
{"width":321,"height":108,"layer":[
{"data":{"name":"mr"},"mark":{"type":"line","strokeWidth":1,"color":"#2a2a2a"},
"encoding":{"x":{"field":"x","type":"quantitative","scale":{"domain":[-119.4,-138.5],"nice":false,"zero":false},
"axis":{"title":null,"labelOverlap":false,"tickCount":1000,"values":[-120,-120.5,-121,-121.5,-122,-122.5,-123,-123.5,-124,-124.5,-125,-125.5,-126,-126.5,-127,-127.5,-128,-128.5,-129,-129.5,-130,-130.5,-131,-131.5,-132,-132.5,-133,-133.5,-134,-134.5,-135,-135.5,-136,-136.5,-137,-137.5,-138.3],
"labelExpr":"datum.value < -138 ? 'ppm' : (abs(datum.value - round(datum.value)) < 0.01 ? format(datum.value, '.0f') : '')"}},
"y":{"field":"y","type":"quantitative","scale":{"domain":[0,108],"nice":false,"zero":false},"axis":null}}},
{"data":{"name":"mrl"},"mark":{"type":"rule","strokeWidth":0.4,"color":"#777777"},
"encoding":{"x":{"field":"x","type":"quantitative"},"x2":{"field":"px"},"y":{"datum":47,"type":"quantitative"},"y2":{"datum":38}}},
{"data":{"name":"mrl"},"mark":{"type":"text","angle":270,"align":"left","baseline":"middle","fontSize":4,"color":"#666666"},
"encoding":{"x":{"field":"x","type":"quantitative"},"y":{"datum":48,"type":"quantitative"},"text":{"field":"t"}}},
{"data":{"name":"mrb"},"mark":{"type":"line","strokeWidth":0.6,"color":"#f08080"},
"encoding":{"x":{"field":"x","type":"quantitative"},"y":{"field":"y","type":"quantitative"},"detail":{"field":"b"}}},
{"data":{"name":"mri"},"mark":{"type":"text","angle":270,"align":"right","baseline":"middle","fontSize":4.5,"fontWeight":"bold","color":"#e04848"},
"encoding":{"x":{"field":"x","type":"quantitative"},"y":{"datum":-13,"type":"quantitative"},"text":{"field":"t"}}},
{"data":{"values":[{"x":-122.1,"y":79,"t":"FIO4_FNMR_20"}]},"mark":{"type":"text","align":"left","baseline":"middle","fontSize":6,"color":"#dcdcdc"},
"encoding":{"x":{"field":"x","type":"quantitative"},"y":{"field":"y","type":"quantitative"},"text":{"field":"t"}}}
]},
{"width":321,"height":82,"layer":[
{"data":{"name":"br"},"mark":{"type":"line","strokeWidth":0.8,"color":"#555555"},
"encoding":{"x":{"field":"x","type":"quantitative","scale":{"domain":[-67.6,-188.4],"nice":false,"zero":false},
"axis":{"title":null,"labelOverlap":false,"tickCount":1000,"labelPadding":0.5,"values":[-68,-69,-70,-71,-72,-73,-74,-75,-76,-77,-78,-79,-80,-81,-82,-83,-84,-85,-86,-87,-88,-89,-90,-91,-92,-93,-94,-95,-96,-97,-98,-99,-100,-101,-102,-103,-104,-105,-106,-107,-108,-109,-110,-111,-112,-113,-114,-115,-116,-117,-118,-119,-120,-121,-122,-123,-124,-125,-126,-127,-128,-129,-130,-131,-132,-133,-134,-135,-136,-137,-138,-139,-140,-141,-142,-143,-144,-145,-146,-147,-148,-149,-150,-151,-152,-153,-154,-155,-156,-157,-158,-159,-160,-161,-162,-163,-164,-165,-166,-167,-168,-169,-170,-171,-172,-173,-174,-175,-176,-177,-178,-179,-180,-181,-182,-183,-184,-185,-186,-188.2],
"labelExpr":"datum.value < -187 ? 'ppm' : (datum.value % 5 == 0 ? format(datum.value, '.0f') : '')","labelFontSize":4}},
"y":{"field":"y","type":"quantitative","scale":{"domain":[0,82],"nice":false,"zero":false},"axis":null}}},
{"data":{"name":"brl"},"mark":{"type":"rule","strokeWidth":0.4,"color":"#999999"},
"encoding":{"x":{"field":"x","type":"quantitative"},"x2":{"field":"px"},"y":{"datum":77,"type":"quantitative"},"y2":{"datum":69}}},
{"data":{"name":"brl"},"mark":{"type":"text","angle":270,"align":"left","baseline":"middle","fontSize":3.8,"color":"#888888"},
"encoding":{"x":{"field":"x","type":"quantitative"},"y":{"datum":78,"type":"quantitative"},"text":{"field":"t"}}}
]}
]}
]
}
